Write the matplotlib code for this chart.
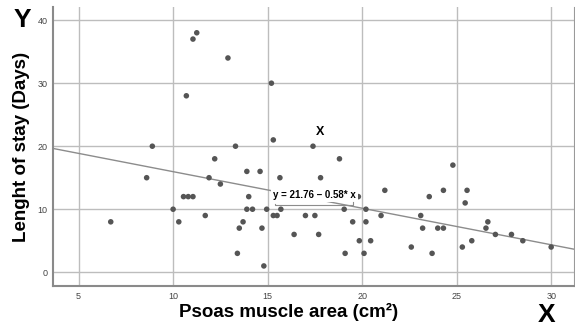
import matplotlib
matplotlib.use('Agg')
import matplotlib.pyplot as plt

plt.rcParams['font.family'] = ['Liberation Sans', 'DejaVu Sans']

# psoas muscle area (cm2) vs length of stay (days)
psoas_area = [6.7, 8.6, 8.9, 10.0, 10.3, 10.55, 10.8, 11.05, 10.7, 11.05,
              11.25, 11.7, 11.9, 12.2, 12.5, 12.9, 13.3, 13.4, 13.5, 13.7,
              13.9, 14.2, 13.9, 14.0, 14.6, 14.7, 14.8, 14.95, 15.2, 15.3,
              15.3, 15.5, 15.65, 15.7, 16.4, 17.0, 17.4, 17.5, 17.7, 17.8,
              18.8, 19.05, 19.1, 19.5, 19.8, 19.85, 20.1, 20.2, 20.2, 20.45,
              21.0, 21.2, 22.6, 23.1, 23.2, 23.55, 23.7, 24.0, 24.3, 24.3,
              24.8, 25.3, 25.45, 25.55, 25.8, 26.55, 26.65, 27.05, 27.9, 28.5,
              30.0]
stay_days = [8, 15, 20, 10, 8, 12, 12, 12, 28, 37,
             38, 9, 15, 18, 14, 34, 20, 3, 7, 8,
             10, 10, 16, 12, 16, 7, 1, 10, 30, 21,
             9, 9, 15, 10, 6, 9, 20, 9, 6, 15,
             18, 10, 3, 8, 12, 5, 3, 10, 8, 5,
             9, 13, 4, 9, 7, 12, 3, 7, 7, 13,
             17, 4, 11, 13, 5, 7, 8, 6, 6, 5,
             4]

# fit line as printed on the chart
intercept = 21.76
slope = -0.58
fit_label = 'y = 21.76 \u2013 0.58* x'
label_x, label_y = 15.3, 12.3

x_ticks = [5, 10, 15, 20, 25, 30]
y_ticks = [0, 10, 20, 30, 40]
x_lim = (3.64, 31.2)
y_lim = (-2.2, 42.1)

fig = plt.figure(figsize=(5.75, 3.3), dpi=100)
ax = fig.add_axes([0.092, 0.133, 0.906, 0.846])

ax.set_xlim(x_lim)
ax.set_ylim(y_lim)
ax.set_xticks(x_ticks)
ax.set_yticks(y_ticks)
ax.grid(True, color='#bdbdbd', linewidth=1.0)
ax.set_axisbelow(True)
ax.tick_params(axis='x', length=0, labelsize=6.5, labelcolor='#444444', pad=4)
ax.tick_params(axis='y', length=0, labelsize=6.5, labelcolor='#444444', pad=4)

ax.spines['top'].set_visible(False)
ax.spines['right'].set_color('#9a9a9a')
ax.spines['left'].set_color('#8a8a8a')
ax.spines['bottom'].set_color('#8a8a8a')
ax.spines['left'].set_linewidth(1.5)
ax.spines['bottom'].set_linewidth(1.5)

# regression line across the whole x range
ax.plot(list(x_lim), [intercept + slope * v for v in x_lim], color='#8c8c8c', linewidth=1.0, zorder=2)

ax.scatter(psoas_area, stay_days, s=16, color='#555555', edgecolors='none', zorder=3)

# equation label with white box and bracket underneath
ax.text(label_x, label_y, fit_label, fontsize=7, fontweight='bold', ha='left', va='center',
        bbox=dict(facecolor='white', edgecolor='none', pad=1.5), zorder=4)
ax.plot([label_x + 0.1, label_x + 0.1, label_x + 4.2, label_x + 4.2],
        [label_y - 1.4, label_y - 1.7, label_y - 1.7, label_y - 1.2],
        color='#8c8c8c', linewidth=0.8, zorder=4)

# outlier marker
ax.text(17.75, 22.3, 'X', fontsize=9, fontweight='bold', ha='center', va='center')

ax.set_xlabel('Psoas muscle area (cm\u00b2)', fontsize=13.5, fontweight='bold')
ax.xaxis.set_label_coords(0.452, -0.06)
ax.set_ylabel('Lenght of stay (Days)', fontsize=13.5, fontweight='bold', labelpad=5)

fig.text(0.038, 0.94, 'Y', fontsize=19, fontweight='bold', ha='center', va='center')
fig.text(0.951, 0.045, 'X', fontsize=19, fontweight='bold', ha='center', va='center')

plt.savefig('out.png', dpi=100)
